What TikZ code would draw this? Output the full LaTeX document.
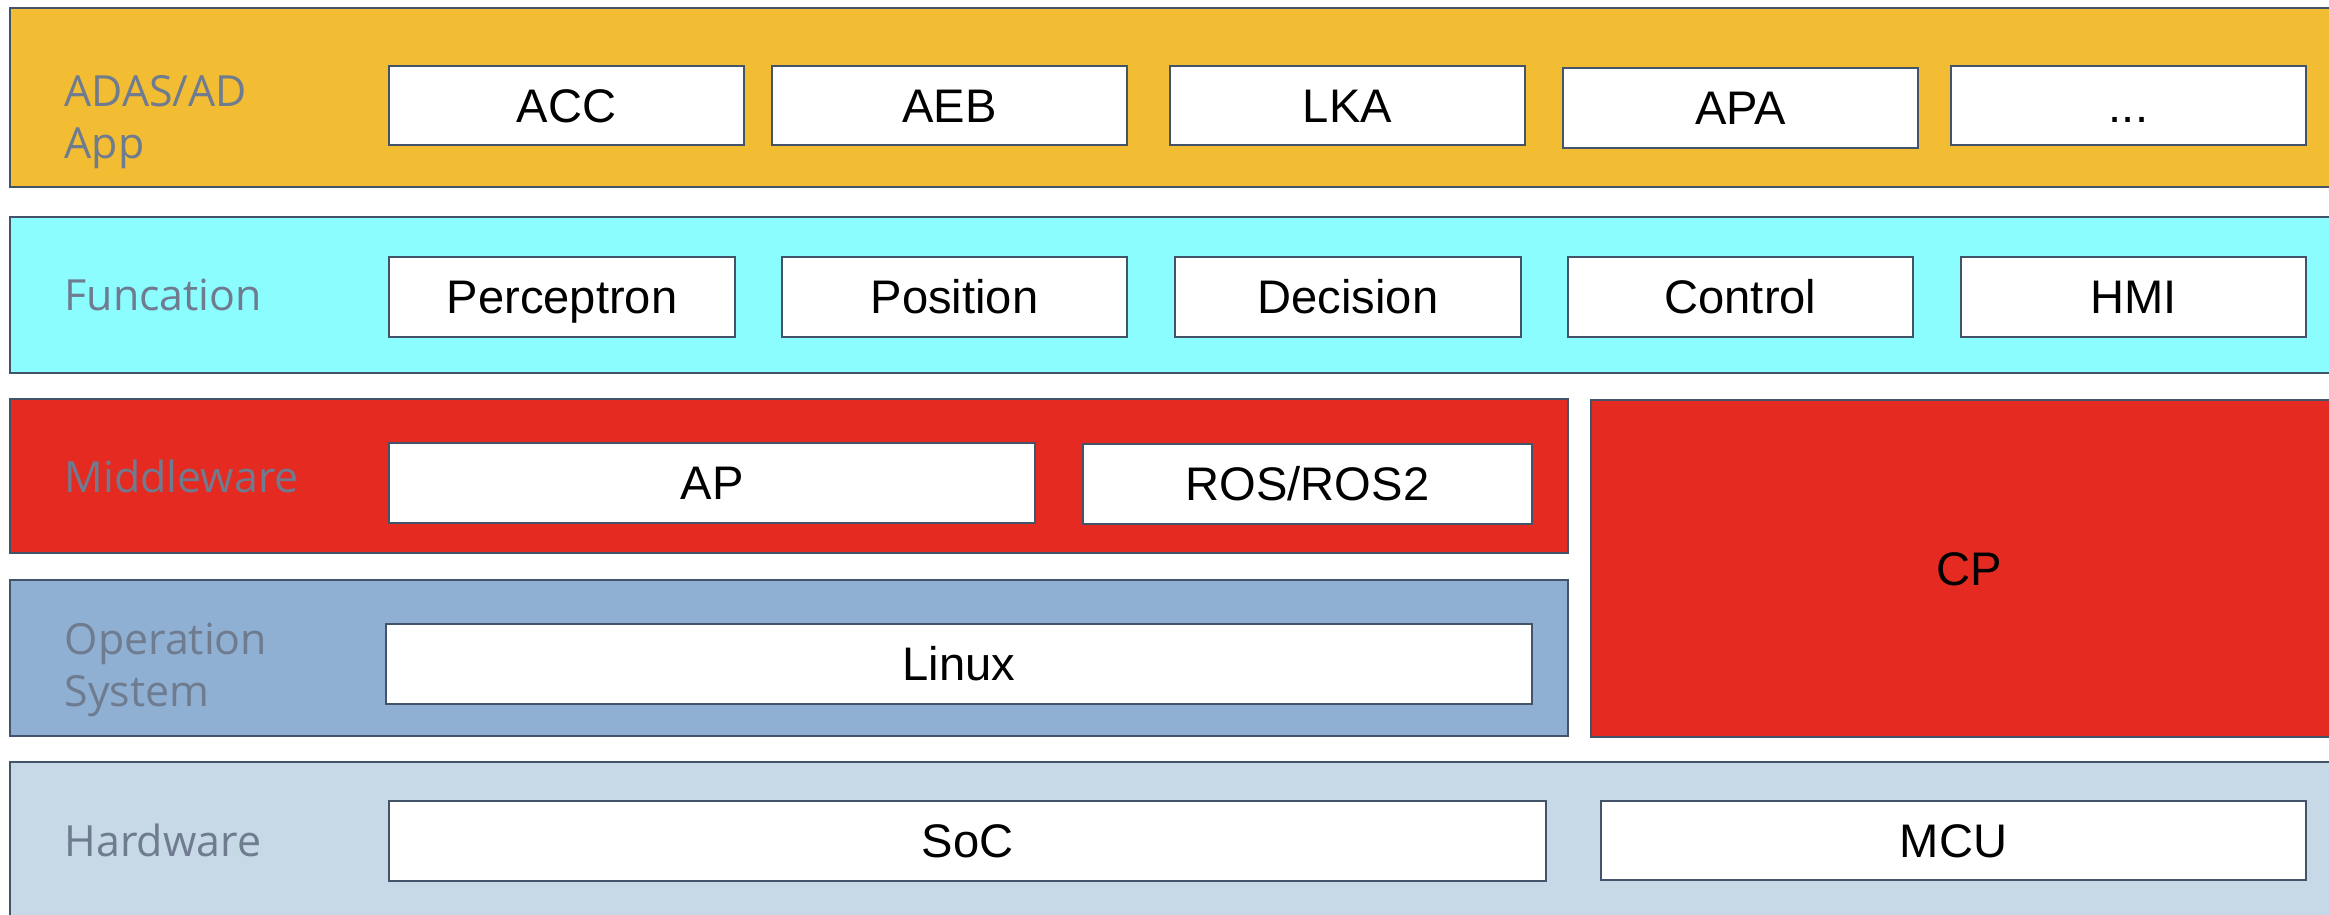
\documentclass[tikz,border=0pt]{standalone}
\usepackage{fontspec}
\setmainfont{Liberation Sans}
\newfontfamily\labelfont{Open Sans}
\definecolor{cOrange}{HTML}{F2BC33}
\definecolor{cCyan}{HTML}{8BFDFE}
\definecolor{cRed}{HTML}{E42A21}
\definecolor{cOS}{HTML}{8FB0D3}
\definecolor{cHW}{HTML}{C7D8E7}
\definecolor{cLabel}{HTML}{6F7B8F}
\definecolor{cBorder}{HTML}{42536A}
\newcommand\pxbox[7]{%
  \node[#1, minimum width={(#5-#3)*0.01cm}, minimum height={(#6-#4)*0.01cm}]
    (#2) at ({(#3+#5)/2},{(#4+#6)/2}) {#7};}
\tikzset{
  layer/.style={draw=cBorder, line width=0.6pt, inner sep=0pt, outer sep=0pt},
  whitebox/.style={draw=cBorder, line width=0.5pt, fill=white, inner sep=0pt, outer sep=0pt,
     font=\fontsize{13.4}{16}\selectfont, text=black, text height=9.6pt, text depth=0pt},
  cpbox/.style={layer, fill=cRed, font=\fontsize{13.4}{16}\selectfont, text=black,
     text height=9.6pt, text depth=0pt},
  lbl/.style={anchor=base west, inner sep=0pt, align=left, text=cLabel,
     font=\labelfont\fontsize{12.2}{14.7}\selectfont}
}
\begin{document}
\begin{tikzpicture}[x=0.01cm, y=-0.01cm]
\useasboundingbox (0,0) rectangle (2329,914);
\clip (0,0) rectangle (2329,914);
% layers
\pxbox{layer, fill=cOrange}{app}{10}{8}{2347}{187}{}
\pxbox{layer, fill=cCyan}{func}{10}{217}{2347}{373}{}
\pxbox{layer, fill=cRed}{mw}{10}{399}{1568}{553}{}
\pxbox{layer, fill=cOS}{os}{10}{580}{1568}{736}{}
\pxbox{cpbox}{cp}{1591}{400}{2347}{737}{CP}
\pxbox{layer, fill=cHW}{hw}{10}{762}{2347}{940}{}
% layer labels (base = last line)
\node[lbl] (lapp) at (64,158) {ADAS/AD\\App};
\node[lbl] (lfunc) at (64,310) {Funcation};
\node[lbl] (lmw) at (64,492) {Middleware};
\node[lbl] (los) at (64,706) {Operation\\System};
\node[lbl] (lhw) at (64,856) {Hardware};
% app row
\pxbox{whitebox}{acc}{389}{66}{744}{145}{ACC}
\pxbox{whitebox}{aeb}{772}{66}{1127}{145}{AEB}
\pxbox{whitebox}{lka}{1170}{66}{1525}{145}{LKA}
\pxbox{whitebox}{apa}{1563}{68}{1918}{148}{APA}
\pxbox{whitebox}{more}{1951}{66}{2306}{145}{...}
% function row
\pxbox{whitebox}{perc}{389}{257}{735}{337}{Perceptron}
\pxbox{whitebox}{pos}{782}{257}{1127}{337}{Position}
\pxbox{whitebox}{dec}{1175}{257}{1521}{337}{Decision}
\pxbox{whitebox}{ctrl}{1568}{257}{1913}{337}{Control}
\pxbox{whitebox}{hmi}{1961}{257}{2306}{337}{HMI}
% middleware
\pxbox{whitebox}{ap}{389}{443}{1035}{523}{AP}
\pxbox{whitebox}{ros}{1083}{444}{1532}{524}{ROS/ROS2}
% os
\pxbox{whitebox}{linux}{386}{624}{1532}{704}{Linux}
% hardware
\pxbox{whitebox}{soc}{389}{801}{1546}{881}{SoC}
\pxbox{whitebox}{mcu}{1601}{801}{2306}{880}{MCU}
\end{tikzpicture}
\end{document}
